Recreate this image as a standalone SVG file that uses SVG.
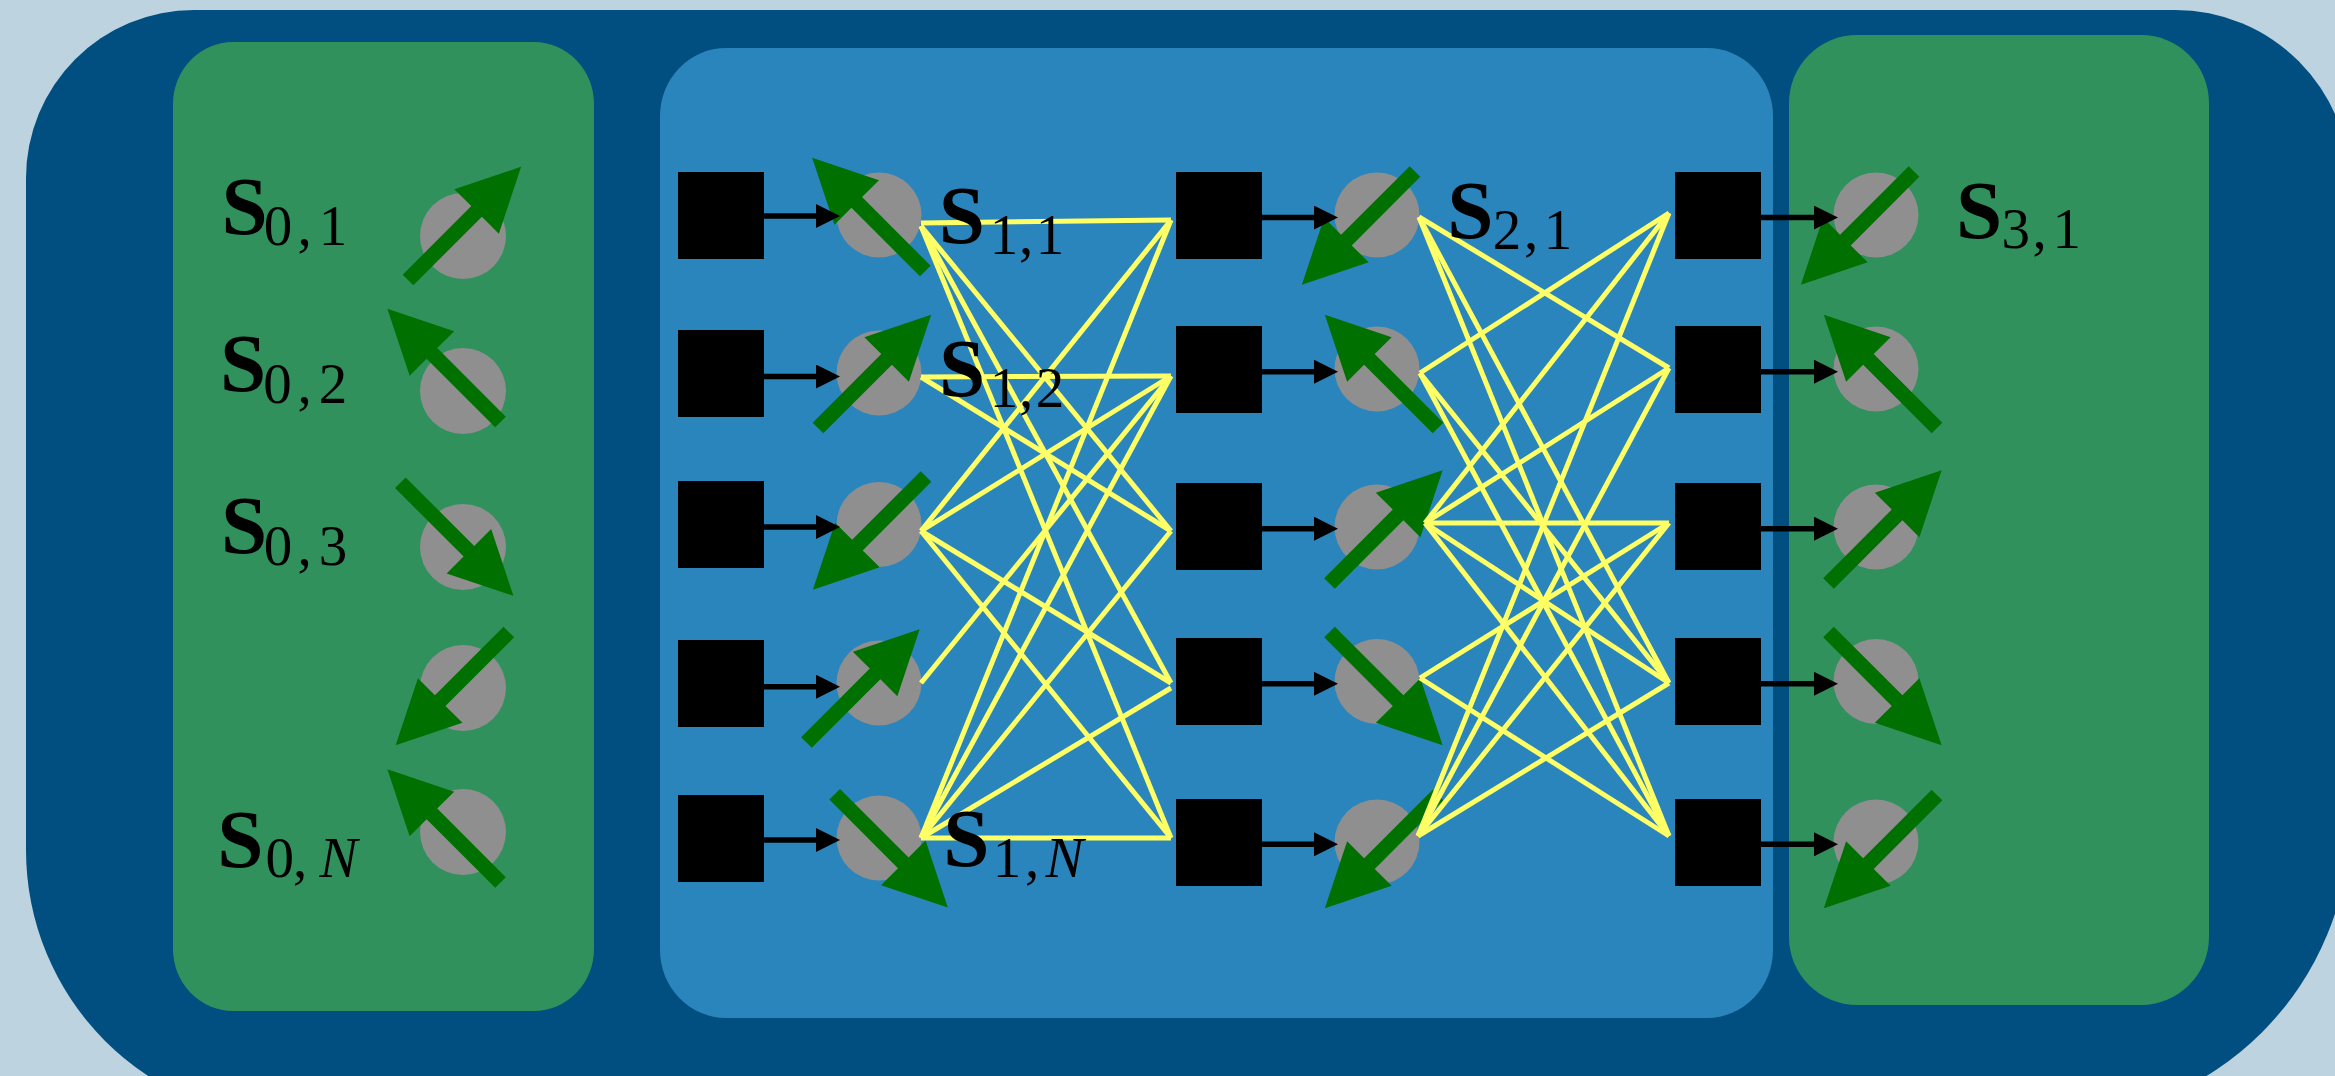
<svg xmlns="http://www.w3.org/2000/svg" xmlns:xlink="http://www.w3.org/1999/xlink" width="2335" height="1076" viewBox="0 0 2335 1076">
  <defs>
    <style>
      .bg{fill:#bed3e0}
      .outer{fill:#004f80}
      .panel-g{fill:#30915c}
      .panel-b{fill:#2a85bd}
      .site{fill:#8f8f8f}
      .gate{fill:#000}
      .spin{fill:#007000}
      .link{stroke:#ffff66;stroke-width:5;fill:none}
      .feed{stroke:#000;stroke-width:5.5;fill:none;marker-end:url(#head)}
      .lab{font-family:"Liberation Serif","Times New Roman",serif;fill:#000}
      .S{font-weight:bold;font-size:83px}
      .sub{font-size:57px}
      .it{font-style:italic}
    </style>
    <marker id="head" markerUnits="userSpaceOnUse" markerWidth="24" markerHeight="24" viewBox="0 0 24 24" refX="4" refY="12" orient="auto">
      <path d="M0,0 L24,12 L0,24 Z" fill="#000"/>
    </marker>
    <!-- spin arrow pointing along +x, tail at the origin -->
    <path id="spin" d="M0,-7.5 H97 V-31.5 L160,0 L97,31.5 V7.5 H0 Z"/>
  </defs>

  <rect class="bg" x="0" y="0" width="2335" height="1076"/>
  <path class="outer" d="M194 10 H2175 A175 175 0 0 1 2350 185 V820 A300 300 0 0 1 2050 1120 H296 A270 270 0 0 1 26 850 V178 A168 168 0 0 1 194 10 Z"/>

  <!-- panels -->
  <rect id="panel-in" class="panel-g" x="173" y="42" width="421" height="969" rx="60" ry="62"/>
  <rect id="panel-net" class="panel-b" x="660" y="48" width="1113" height="970" rx="66" ry="68"/>
  <rect id="panel-out" class="panel-g" x="1789" y="35" width="420" height="970" rx="68" ry="68"/>

  <!-- gates -->
  <g id="gates">
    <rect id="g1-1" class="gate" x="678" y="172" width="86" height="87"/>
    <rect id="g1-2" class="gate" x="678" y="330" width="86" height="87"/>
    <rect id="g1-3" class="gate" x="678" y="481" width="86" height="87"/>
    <rect id="g1-4" class="gate" x="678" y="640" width="86" height="87"/>
    <rect id="g1-5" class="gate" x="678" y="795" width="86" height="87"/>
    <rect id="g2-1" class="gate" x="1176" y="172" width="86" height="87"/>
    <rect id="g2-2" class="gate" x="1176" y="326" width="86" height="87"/>
    <rect id="g2-3" class="gate" x="1176" y="483" width="86" height="87"/>
    <rect id="g2-4" class="gate" x="1176" y="638" width="86" height="87"/>
    <rect id="g2-5" class="gate" x="1176" y="799" width="86" height="87"/>
    <rect id="g3-1" class="gate" x="1675" y="172" width="86" height="87"/>
    <rect id="g3-2" class="gate" x="1675" y="326" width="86" height="87"/>
    <rect id="g3-3" class="gate" x="1675" y="483" width="86" height="87"/>
    <rect id="g3-4" class="gate" x="1675" y="638" width="86" height="87"/>
    <rect id="g3-5" class="gate" x="1675" y="799" width="86" height="87"/>
  </g>

  <!-- layer 0 sites -->
  <g id="s0-1"><circle class="site" cx="463" cy="236" r="43"/><use xlink:href="#spin" class="spin" transform="translate(408 280) rotate(-45)"/></g>
  <g id="s0-2"><circle class="site" cx="463" cy="391" r="43"/><use xlink:href="#spin" class="spin" transform="translate(500.5 422) rotate(-135)"/></g>
  <g id="s0-3"><circle class="site" cx="463" cy="547" r="43"/><use xlink:href="#spin" class="spin" transform="translate(400.3 482.7) rotate(45)"/></g>
  <g id="s0-4"><circle class="site" cx="463" cy="688" r="43"/><use xlink:href="#spin" class="spin" transform="translate(508.8 632) rotate(135)"/></g>
  <g id="s0-5"><circle class="site" cx="463" cy="832" r="43"/><use xlink:href="#spin" class="spin" transform="translate(500.5 882.5) rotate(-135)"/></g>

  <!-- layer 1 sites -->
  <g id="s1-1"><circle class="site" cx="879" cy="215" r="42.5"/><use xlink:href="#spin" class="spin" transform="translate(925.3 271) rotate(-135)"/></g>
  <g id="s1-2"><circle class="site" cx="879" cy="373" r="42.5"/><use xlink:href="#spin" class="spin" transform="translate(818 428) rotate(-45)"/></g>
  <g id="s1-3"><circle class="site" cx="879" cy="524.5" r="42.5"/><use xlink:href="#spin" class="spin" transform="translate(926 476.5) rotate(135)"/></g>
  <g id="s1-4"><circle class="site" cx="879" cy="683" r="42.5"/><use xlink:href="#spin" class="spin" transform="translate(806.5 742.5) rotate(-45)"/></g>
  <g id="s1-5"><circle class="site" cx="879" cy="838" r="42.5"/><use xlink:href="#spin" class="spin" transform="translate(834.7 794.3) rotate(45)"/></g>

  <!-- layer 2 sites -->
  <g id="s2-1"><circle class="site" cx="1377" cy="215" r="42.5"/><use xlink:href="#spin" class="spin" transform="translate(1415 171.5) rotate(135)"/></g>
  <g id="s2-2"><circle class="site" cx="1377" cy="369" r="42.5"/><use xlink:href="#spin" class="spin" transform="translate(1438 428) rotate(-135)"/></g>
  <g id="s2-3"><circle class="site" cx="1377" cy="527" r="42.5"/><use xlink:href="#spin" class="spin" transform="translate(1329.5 583.5) rotate(-45)"/></g>
  <g id="s2-4"><circle class="site" cx="1377" cy="681.5" r="42.5"/><use xlink:href="#spin" class="spin" transform="translate(1329.5 632) rotate(45)"/></g>
  <g id="s2-5"><circle class="site" cx="1377" cy="842" r="42.5"/><use xlink:href="#spin" class="spin" transform="translate(1438 795) rotate(135)"/></g>

  <!-- layer 3 sites -->
  <g id="s3-1"><circle class="site" cx="1876" cy="215" r="42.5"/><use xlink:href="#spin" class="spin" transform="translate(1914 171.5) rotate(135)"/></g>
  <g id="s3-2"><circle class="site" cx="1876" cy="369" r="42.5"/><use xlink:href="#spin" class="spin" transform="translate(1937 428) rotate(-135)"/></g>
  <g id="s3-3"><circle class="site" cx="1876" cy="527" r="42.5"/><use xlink:href="#spin" class="spin" transform="translate(1828.5 583.5) rotate(-45)"/></g>
  <g id="s3-4"><circle class="site" cx="1876" cy="681.5" r="42.5"/><use xlink:href="#spin" class="spin" transform="translate(1828.5 632) rotate(45)"/></g>
  <g id="s3-5"><circle class="site" cx="1876" cy="842" r="42.5"/><use xlink:href="#spin" class="spin" transform="translate(1937 795) rotate(135)"/></g>

  <!-- connectors -->
  <g id="connectors">
    <g id="links-1" class="link">
      <line x1="921" y1="223" x2="1171" y2="220"/>
      <line x1="921" y1="226" x2="1171" y2="531"/>
      <line x1="921" y1="226" x2="1171" y2="683"/>
      <line x1="921" y1="226" x2="1171" y2="838"/>
      <line x1="921" y1="377" x2="1171" y2="376"/>
      <line x1="921" y1="377" x2="1171" y2="531"/>
      <line x1="921" y1="531" x2="1171" y2="220"/>
      <line x1="921" y1="531" x2="1171" y2="376"/>
      <line x1="921" y1="531" x2="1171" y2="683"/>
      <line x1="921" y1="531" x2="1171" y2="838"/>
      <line x1="921" y1="683" x2="1171" y2="376"/>
      <line x1="921" y1="838" x2="1171" y2="220"/>
      <line x1="921" y1="838" x2="1171" y2="376"/>
      <line x1="921" y1="838" x2="1171" y2="531"/>
      <line x1="921" y1="838" x2="1171" y2="688"/>
      <line x1="921" y1="838" x2="1171" y2="838"/>
    </g>
    <g id="links-2" class="link">
      <line x1="1419" y1="217" x2="1669" y2="368"/>
      <line x1="1419" y1="217" x2="1669" y2="683"/>
      <line x1="1419" y1="217" x2="1669" y2="836"/>
      <line x1="1420" y1="373" x2="1669" y2="213"/>
      <line x1="1420" y1="373" x2="1669" y2="683"/>
      <line x1="1420" y1="373" x2="1669" y2="836"/>
      <line x1="1425" y1="523" x2="1669" y2="213"/>
      <line x1="1425" y1="523" x2="1669" y2="368"/>
      <line x1="1425" y1="523" x2="1669" y2="523"/>
      <line x1="1425" y1="523" x2="1669" y2="683"/>
      <line x1="1425" y1="523" x2="1669" y2="836"/>
      <line x1="1420" y1="678" x2="1669" y2="523"/>
      <line x1="1420" y1="678" x2="1669" y2="836"/>
      <line x1="1418" y1="836" x2="1669" y2="213"/>
      <line x1="1418" y1="836" x2="1669" y2="368"/>
      <line x1="1418" y1="836" x2="1669" y2="523"/>
      <line x1="1418" y1="836" x2="1669" y2="683"/>
    </g>
    <g id="feeds" class="feed">
      <line x1="764" y1="216" x2="820" y2="216"/>
      <line x1="764" y1="376.5" x2="820" y2="376.5"/>
      <line x1="764" y1="527" x2="820" y2="527"/>
      <line x1="764" y1="686.7" x2="820" y2="686.7"/>
      <line x1="764" y1="840" x2="820" y2="840"/>
      <line x1="1262" y1="217.6" x2="1318" y2="217.6"/>
      <line x1="1262" y1="371.7" x2="1318" y2="371.7"/>
      <line x1="1262" y1="528.7" x2="1318" y2="528.7"/>
      <line x1="1262" y1="683.8" x2="1318" y2="683.8"/>
      <line x1="1262" y1="844.3" x2="1318" y2="844.3"/>
      <line x1="1761" y1="217.6" x2="1818" y2="217.6"/>
      <line x1="1761" y1="371.7" x2="1818" y2="371.7"/>
      <line x1="1761" y1="528.7" x2="1818" y2="528.7"/>
      <line x1="1761" y1="683.8" x2="1818" y2="683.8"/>
      <line x1="1761" y1="844.3" x2="1818" y2="844.3"/>
    </g>
  </g>

  <!-- labels -->
  <g id="labels" class="lab">
    <text><tspan class="S" x="221.6" y="234">S</tspan><tspan class="sub" x="263.75 297.4 318.75" y="245">0,1</tspan></text>
    <text><tspan class="S" x="220" y="391">S</tspan><tspan class="sub" x="263.25 297.4 318.75" y="403">0,2</tspan></text>
    <text><tspan class="S" x="221" y="553">S</tspan><tspan class="sub" x="263.75 297.4 318.75" y="565">0,3</tspan></text>
    <text><tspan class="S" x="217.2" y="866.6">S</tspan><tspan class="sub" x="265.5 292.9" y="877">0,</tspan><tspan class="sub it" x="319.5" y="877">N</tspan></text>
    <text><tspan class="S" x="938.7" y="243">S</tspan><tspan class="sub" x="989.75 1018.9 1035.75" y="254">1,1</tspan></text>
    <text><tspan class="S" x="938.9" y="396">S</tspan><tspan class="sub" x="989.75 1018.9 1035.75" y="407">1,2</tspan></text>
    <text><tspan class="S" x="943.2" y="866">S</tspan><tspan class="sub" x="992.75 1024.9" y="877">1,</tspan><tspan class="sub it" x="1045.5" y="877">N</tspan></text>
    <text><tspan class="S" x="1447.2" y="238">S</tspan><tspan class="sub" x="1492.75 1523.9 1543.75" y="249">2,1</tspan></text>
    <text><tspan class="S" x="1955.9" y="237.6">S</tspan><tspan class="sub" x="2001.5 2032.6 2052.5" y="248">3,1</tspan></text>
  </g>
</svg>
